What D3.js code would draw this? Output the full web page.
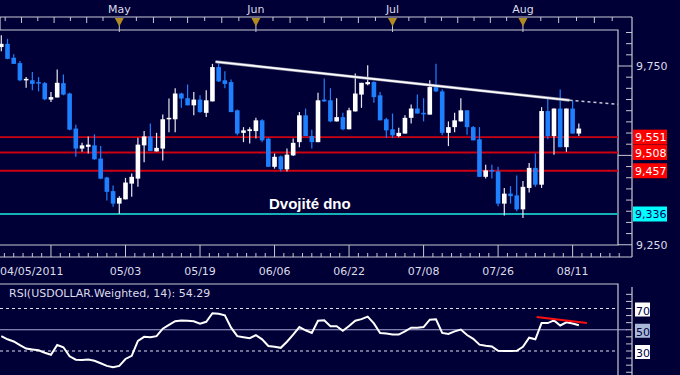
<!DOCTYPE html>
<html>
<head>
<meta charset="utf-8">
<script src="https://cdn.jsdelivr.net/npm/d3@7"></script>
<style>
  html, body { margin: 0; padding: 0; background: #000036; }
  svg { display: block; font-family: "DejaVu Sans", Verdana, sans-serif; }
</style>
</head>
<body>
<svg id="chart" width="680" height="375"></svg>
<script>
// Datos del grafico (USDOLLAR, diario)
const startDate = "2011-04-05";
const numDays = 94;

const openP  = [9803,9812,9773,9758,9710,9710,9705,9702,9656,9662,9702,9673,9575,9519,9524,9528,9491,9438,9400,9365,
                9377,9421,9435,9528,9553,9511,9519,9601,9601,9673,9660,9640,9656,9619,9651,9747,9710,9705,9626,9563,
                9568,9568,9598,9547,9468,9497,9461,9500,9537,9612,9554,9537,9656,9654,9595,9607,9573,9623,9670,9699,
                9705,9668,9601,9573,9554,9561,9605,9631,9619,9614,9691,9679,9563,9579,9595,9626,9579,9545,9440,9459,
                9455,9365,9393,9388,9349,9409,9465,9418,9624,9554,9631,9523,9631,9561];
const highP  = [9836,9826,9783,9764,9719,9733,9719,9705,9677,9740,9726,9675,9586,9535,9553,9559,9526,9440,9416,9386,
                9437,9449,9549,9568,9589,9563,9614,9659,9688,9675,9698,9677,9668,9682,9756,9763,9735,9712,9628,9579,
                9579,9605,9601,9549,9505,9500,9519,9547,9621,9631,9572,9675,9715,9688,9660,9619,9633,9729,9703,9752,
                9707,9677,9605,9617,9577,9612,9642,9670,9660,9710,9756,9685,9595,9619,9660,9626,9582,9579,9474,9474,
                9468,9409,9414,9444,9428,9479,9505,9635,9659,9631,9684,9631,9654,9589];
const lowP   = [9791,9769,9756,9707,9689,9682,9679,9654,9649,9662,9668,9570,9496,9510,9505,9488,9433,9374,9356,9337,
                9377,9384,9412,9481,9512,9511,9486,9565,9565,9633,9640,9612,9619,9607,9651,9705,9688,9621,9556,9537,
                9533,9547,9537,9468,9463,9455,9455,9498,9523,9554,9519,9537,9649,9593,9595,9570,9573,9623,9633,9696,
                9647,9598,9549,9549,9551,9561,9589,9617,9595,9614,9677,9556,9526,9565,9595,9558,9542,9440,9435,9435,
                9358,9332,9365,9344,9325,9396,9412,9409,9545,9502,9523,9510,9561,9554];
const closeP = [9812,9770,9756,9710,9714,9700,9702,9657,9663,9703,9670,9572,9519,9528,9530,9489,9435,9398,9365,9381,
                9424,9440,9530,9553,9512,9521,9601,9605,9673,9659,9640,9656,9621,9654,9747,9707,9700,9621,9561,9570,
                9573,9598,9542,9468,9496,9461,9502,9535,9612,9554,9537,9654,9651,9595,9607,9573,9626,9673,9703,9705,
                9663,9598,9570,9556,9563,9605,9631,9617,9616,9691,9679,9563,9579,9598,9626,9579,9542,9440,9458,9455,
                9365,9393,9386,9349,9412,9465,9418,9624,9554,9631,9523,9631,9561,9575];

const rsiValues = [44,41,39,35.5,32.3,31.5,30.7,28.4,26.5,35.6,33.5,25,21.8,21.6,22,20.8,18.5,16,14.8,16,
                   22.5,25.5,39.5,43.3,43,44,51,54.5,58,58.8,58.5,58,55.8,57.5,65.5,65,63.5,52,44,43,
                   42,44.9,41,34.7,34,33,38.7,45.5,52.5,49.5,47,58.5,59,53.3,53.3,49,53.5,58.5,60,62.3,
                   56,47,46.5,45.5,45.5,48.5,52,52,52.5,59.5,59.8,47,46,48.5,50.2,45,41.5,36,35,34.3,
                   30.2,30.1,30,30.2,34,42.5,41,56.3,56.3,58.8,54,57,55.8,54.29];

// Niveles horizontales
const resistLevels = [9551, 9508, 9457];
const supportLevel = 9336;
const priceTicks = [9250, 9500, 9750];
const priceLabels = ["9,250", "9,750"];

// Linea de tendencia (indice de vela, precio)
const trendPts = [[34.5, 9762], [91.5, 9654]];
const trendProj = [[91.5, 9654], [99.3, 9643]];
const rsiTrend = [[86.2, 61.9], [94.3, 56.3]];

// Etiquetas de fecha y meses
const dateLabels = ["05/03", "05/19", "06/06", "06/22", "07/08", "07/26", "08/11"];
const firstLabel = "04/05/2011";
const months = ["May", "Jun", "Jul", "Aug"];
const rsiLevels = [70, 50, 30];
const rsiTitle = "RSI(USDOLLAR.Weighted, 14): 54.29";
const noteText = "Dvojité dno";

// Construir fechas habiles
const days = [];
let d = new Date(startDate + "T12:00:00");
while (days.length < numDays) {
    const wd = d.getDay();
    if (wd !== 0 && wd !== 6) days.push(new Date(d));
    d.setDate(d.getDate() + 1);
}
const fmt = d3.timeFormat("%m/%d");

// Colores
const BG = "#000036";
const FRAME = "#c8c8d4";
const TXT = "#dcdce8";
const BLUE = "#1e80ff";

const svg = d3.select("#chart");
svg.append("rect").attr("width", 680).attr("height", 375).attr("fill", BG);

// Escalas
const x = d3.scaleLinear().domain([0, numDays - 1]).range([1.3, 1.3 + 6.21 * (numDays - 1)]);
const y = d3.scaleLinear().domain([9250, 9750]).range([244.75, 66]);
const yr = d3.scaleLinear().domain([30, 70]).range([351, 308.5]);

const panelRight = 618, axisRight = 632;

// ---- Barra superior de meses ----
const topBar = svg.append("g");
topBar.append("path")
    .attr("d", `M0,30 V17 H${axisRight}`)
    .attr("fill", "none").attr("stroke", FRAME).attr("stroke-width", 1.2);

// posiciones de inicio de mes (indice de vela)
const monthIdx = [];
days.forEach((dd, i) => {
    if (i > 0 && dd.getMonth() !== days[i - 1].getMonth()) monthIdx.push(i);
});
const bounds = [monthIdx[0] - 21].concat(monthIdx, [monthIdx[monthIdx.length - 1] + 23]);
for (let k = 0; k < bounds.length - 1; k++) {
    for (let j = 1; j < 8; j++) {
        const xi = x(bounds[k] + (bounds[k + 1] - bounds[k]) * j / 8);
        if (xi < 1 || xi > axisRight - 3) continue;
        topBar.append("line")
            .attr("x1", xi).attr("x2", xi).attr("y1", 17).attr("y2", j % 2 ? 21 : 23)
            .attr("stroke", FRAME).attr("stroke-width", 1);
    }
}
monthIdx.forEach((mi, k) => {
    const mx = x(mi);
    topBar.append("line").attr("x1", mx).attr("x2", mx).attr("y1", 24).attr("y2", 32)
        .attr("stroke", FRAME).attr("stroke-width", 1);
    topBar.append("path")
        .attr("d", `M${mx - 4.5},18 L${mx + 4.5},18 L${mx},26.5 Z`)
        .attr("fill", "#b08a22");
    topBar.append("text").attr("x", mx).attr("y", 13)
        .attr("text-anchor", "middle").attr("font-size", 11).attr("fill", TXT)
        .text(months[k]);
});

// ---- Panel principal ----
const main = svg.append("g");
main.append("path")
    .attr("d", `M0,30 H${panelRight} V245 H0`)
    .attr("fill", "none").attr("stroke", FRAME).attr("stroke-width", 1.2);

// eje derecho de precios
main.append("line").attr("x1", axisRight).attr("x2", axisRight).attr("y1", 17).attr("y2", 257)
    .attr("stroke", FRAME).attr("stroke-width", 1.2);
for (let p = 9250; p < 9860; p += 31.25) {
    const major = priceTicks.indexOf(p) >= 0;
    main.append("line")
        .attr("x1", major ? panelRight : axisRight - 6).attr("x2", axisRight)
        .attr("y1", y(p)).attr("y2", y(p))
        .attr("stroke", FRAME).attr("stroke-width", 1);
}
[9250, 9750].forEach((p, k) => {
    main.append("text").attr("x", 636).attr("y", y(p) + 4)
        .attr("font-size", 11).attr("fill", TXT).text(priceLabels[k]);
});

// eje de fechas
main.append("line").attr("x1", 0).attr("x2", axisRight).attr("y1", 257).attr("y2", 257)
    .attr("stroke", FRAME).attr("stroke-width", 1.2);
for (let t = 8 - 1.5 * 5; t <= numDays + 6; t += 1.5) {
    const tx = x(t);
    if (tx < 0 || tx > axisRight - 2) continue;
    const major = Math.abs((t - 8) / 12 - Math.round((t - 8) / 12)) < 1e-6;
    main.append("line").attr("x1", tx).attr("x2", tx)
        .attr("y1", major ? 245 : 253).attr("y2", 257)
        .attr("stroke", FRAME).attr("stroke-width", 1);
}
main.append("text").attr("x", 0).attr("y", 275)
    .attr("font-size", 11).attr("fill", TXT).text(firstLabel);
days.forEach((dd, i) => {
    const lab = fmt(dd);
    if (dateLabels.indexOf(lab) >= 0) {
        main.append("text").attr("x", x(i)).attr("y", 275)
            .attr("text-anchor", "middle").attr("font-size", 11).attr("fill", TXT).text(lab);
    }
});

// lineas de soporte / resistencia
resistLevels.forEach(p => {
    main.append("line").attr("x1", 0).attr("x2", panelRight).attr("y1", y(p)).attr("y2", y(p))
        .attr("stroke", "#cc0010").attr("stroke-width", 1.8);
});
main.append("line").attr("x1", 0).attr("x2", panelRight)
    .attr("y1", y(supportLevel)).attr("y2", y(supportLevel))
    .attr("stroke", "#18b0b8").attr("stroke-width", 1.8);

// velas
const candles = main.append("g");
const bw = 4.6;
for (let i = 0; i < numDays; i++) {
    const up = closeP[i] >= openP[i];
    const col = up ? "#ffffff" : BLUE;
    const cx = x(i);
    candles.append("line")
        .attr("x1", cx).attr("x2", cx).attr("y1", y(highP[i])).attr("y2", y(lowP[i]))
        .attr("stroke", up ? "#e8e8f0" : BLUE).attr("stroke-width", 1.2);
    const yt = y(Math.max(openP[i], closeP[i]));
    const yb = y(Math.min(openP[i], closeP[i]));
    candles.append("rect")
        .attr("x", cx - bw / 2).attr("y", yt)
        .attr("width", bw).attr("height", Math.max(1.5, yb - yt))
        .attr("fill", col);
}

// linea de tendencia
const tl = d3.line().x(p => x(p[0])).y(p => y(p[1]));
main.append("path").attr("d", tl(trendPts)).attr("fill", "none")
    .attr("stroke", "#8e8ea4").attr("stroke-width", 3);
main.append("path").attr("d", tl(trendPts)).attr("fill", "none")
    .attr("stroke", "#ffffff").attr("stroke-width", 1.6);
main.append("path").attr("d", tl(trendProj)).attr("fill", "none")
    .attr("stroke", "#c8c8d8").attr("stroke-width", 1.5).attr("stroke-dasharray", "3,3");

// texto "Dvojité dno"
main.append("text").attr("x", 269).attr("y", 209)
    .attr("font-family", "'Liberation Sans', Arial, sans-serif")
    .attr("font-weight", "bold").attr("font-size", 15).attr("fill", "#ffffff")
    .text(noteText);

// etiquetas de niveles
const lvlBox = (p, bg, fg) => {
    main.append("rect").attr("x", 633).attr("y", y(p) - 7.5).attr("width", 34).attr("height", 15)
        .attr("fill", bg);
    main.append("text").attr("x", 635).attr("y", y(p) + 4)
        .attr("font-size", 11).attr("fill", fg).text(d3.format(",")(p));
};
resistLevels.forEach(p => lvlBox(p, "#ff0000", "#ffffff"));
lvlBox(supportLevel, "#00ffff", "#000060");

// ---- Panel RSI ----
const rsiG = svg.append("g");
rsiG.append("path")
    .attr("d", `M0,284 H${panelRight} V375`)
    .attr("fill", "none").attr("stroke", FRAME).attr("stroke-width", 1.2);
rsiG.append("line").attr("x1", axisRight).attr("x2", axisRight).attr("y1", 287).attr("y2", 375)
    .attr("stroke", FRAME).attr("stroke-width", 1.2);
for (let v = 10; v <= 90; v += 20 / 3) {
    if (yr(v) < 288 || yr(v) > 374) continue;
    rsiG.append("line").attr("x1", axisRight - 6).attr("x2", axisRight)
        .attr("y1", yr(v)).attr("y2", yr(v)).attr("stroke", FRAME).attr("stroke-width", 1);
}
rsiLevels.forEach(v => {
    const l = rsiG.append("line").attr("x1", 0).attr("y1", yr(v)).attr("y2", yr(v));
    if (v === 50) {
        l.attr("x2", 627).attr("stroke", "#a8a8d8").attr("stroke-width", 1.2);
    } else {
        l.attr("x2", panelRight).attr("stroke", "#e0e0f0").attr("stroke-width", 1.2)
            .attr("stroke-dasharray", "3,3");
    }
    rsiG.append("rect").attr("x", 635).attr("y", yr(v) - 6).attr("width", 15).attr("height", 14)
        .attr("fill", v === 50 ? "#a8b8d8" : "#ffffff");
    rsiG.append("text").attr("x", 636).attr("y", yr(v) + 6)
        .attr("font-size", 11).attr("fill", "#000040").text(v);
});

rsiG.append("path")
    .attr("d", d3.line().x((v, i) => x(i)).y(v => yr(v))(rsiValues))
    .attr("fill", "none").attr("stroke", "#ffffff").attr("stroke-width", 2);

rsiG.append("path")
    .attr("d", d3.line().x(p => x(p[0])).y(p => yr(p[1]))(rsiTrend))
    .attr("fill", "none").attr("stroke", "#ff1010").attr("stroke-width", 2);

rsiG.append("text").attr("x", 9).attr("y", 297)
    .attr("font-size", 11).attr("fill", TXT).text(rsiTitle);
</script>
</body>
</html>
